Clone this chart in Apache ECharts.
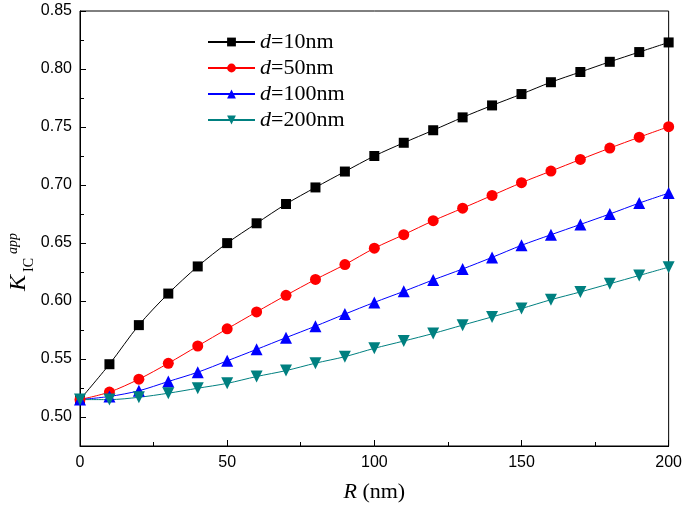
<!DOCTYPE html>
<html>
<head>
<meta charset="utf-8">
<script src="https://cdn.jsdelivr.net/npm/echarts@6/dist/echarts.min.js"></script>
<style>
html,body{margin:0;padding:0;background:#fff;}
#c{width:685px;height:508px;}
</style>
</head>
<body>
<div id="c"></div>
<script>
const R = [0,10,20,30,40,50,60,70,80,90,100,110,120,130,140,150,160,170,180,190,200];
const d10 = [0.515,0.5455,0.5792,0.6064,0.6298,0.6499,0.6670,0.6836,0.6979,0.7116,0.7250,0.7364,0.7472,0.7583,0.7686,0.7784,0.7886,0.7974,0.8062,0.8146,0.8229];
const d50 = [0.515,0.5215,0.5326,0.5463,0.5612,0.5760,0.5906,0.6049,0.6186,0.6314,0.6455,0.6572,0.6692,0.6800,0.6910,0.7020,0.7120,0.7220,0.7318,0.7412,0.7503];
const d100 = [0.515,0.5177,0.5226,0.5306,0.5386,0.5484,0.5583,0.5684,0.5783,0.5887,0.5988,0.6083,0.6182,0.6276,0.6376,0.6480,0.6571,0.6660,0.6750,0.6844,0.6930];
const d200 = [0.515,0.5150,0.5170,0.5205,0.5248,0.5290,0.5349,0.5400,0.5464,0.5520,0.5592,0.5655,0.5720,0.5792,0.5863,0.5935,0.6011,0.6078,0.6149,0.6220,0.6292];
const seriesNames = ['d=10nm','d=50nm','d=100nm','d=200nm'];
const yMajorTicks = [0.50,0.55,0.60,0.65,0.70,0.75,0.80,0.85];
const yMinorTicks = [0.475,0.525,0.575,0.625,0.675,0.725,0.775,0.825];

const pair = (ys) => R.map((x,i)=>[x,ys[i]]);
const chart = echarts.init(document.getElementById('c'));
const serif = 'Liberation Serif, Times New Roman, serif';
const labelFont = {fontFamily:'Liberation Sans, Arial, sans-serif', fontSize:16, color:'#000'};

function mk(name, data, color, symbol, size, rot){
  return {
    name, type:'line', data:pair(data), smooth:0.3,
    symbol, symbolSize:size, symbolRotate:rot||0,
    lineStyle:{color, width:1}, itemStyle:{color},
    z: 3
  };
}

chart.setOption({
  animation:false,
  backgroundColor:'#fff',
  grid:{left:80,right:16,top:11,bottom:60,show:true,borderColor:'#000',borderWidth:1,backgroundColor:'transparent'},
  legend:{
    orient:'vertical', left:202, top:26, itemWidth:47, itemHeight:11, itemGap:4,
    data:seriesNames,
    formatter:(n)=>'{i|d}{n|' + n.slice(1) + '}',
    textStyle:{
      rich:{
        i:{fontFamily:serif, fontStyle:'italic', fontSize:22, color:'#000', lineHeight:22},
        n:{fontFamily:serif, fontSize:22, color:'#000', lineHeight:22}
      }
    }
  },
  xAxis:{
    type:'value', min:0, max:200, interval:50,
    axisLine:{lineStyle:{color:'#000',width:1}},
    axisTick:{inside:true,length:6,lineStyle:{color:'#000'}},
    minorTick:{show:true,splitNumber:2,length:4,lineStyle:{color:'#000'}},
    splitLine:{show:false},
    axisLabel:Object.assign({margin:9}, labelFont),
    name:'{i|R}{n| (nm)}', nameLocation:'middle', nameGap:35,
    nameTextStyle:{rich:{
      i:{fontFamily:serif, fontStyle:'italic', fontSize:22, color:'#000'},
      n:{fontFamily:serif, fontSize:22, color:'#000'}
    }}
  },
  yAxis:[{
    type:'value', min:0.475, max:0.85, interval:0.025,
    axisLine:{lineStyle:{color:'#000',width:1}},
    axisTick:{inside:true,length:6,lineStyle:{color:'#000',width:1},customValues:yMajorTicks},
    splitLine:{show:false},
    axisLabel:Object.assign({margin:8, customValues:yMajorTicks, formatter:(v)=>v.toFixed(2)}, labelFont)
  },{
    type:'value', min:0.475, max:0.85, interval:0.025, position:'left',
    axisLine:{show:false},
    axisTick:{inside:true,length:4,lineStyle:{color:'#000',width:1},customValues:yMinorTicks},
    axisLabel:{show:false},
    splitLine:{show:false}
  }],
  series:[
    mk(seriesNames[0], d10, '#000000', 'rect', 10),
    mk(seriesNames[1], d50, '#ff0000', 'circle', 11),
    mk(seriesNames[2], d100, '#0000ff', 'triangle', 12),
    mk(seriesNames[3], d200, '#008080', 'triangle', 12, 180)
  ],
  graphic:[{
    type:'group', x:26, y:291, rotation:Math.PI/2,
    children:[
      {type:'text', x:0, y:5, style:{text:'K', font:'italic 24px Liberation Serif, serif', fill:'#000', verticalAlign:'bottom'}},
      {type:'text', x:19, y:10, style:{text:'IC', font:'14px Liberation Serif, serif', fill:'#000', verticalAlign:'bottom'}},
      {type:'text', x:37, y:-6, style:{text:'app', font:'italic 14px Liberation Serif, serif', fill:'#000', verticalAlign:'bottom'}}
    ]
  }]
});
</script>
</body>
</html>
